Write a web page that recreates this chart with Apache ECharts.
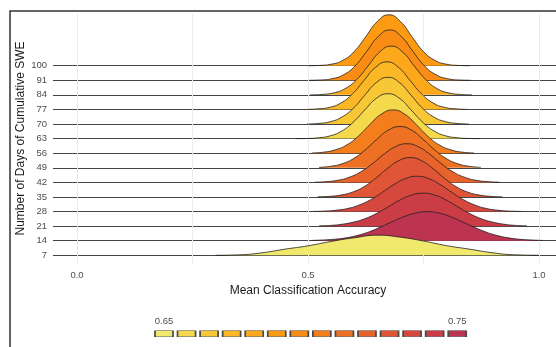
<!DOCTYPE html>
<html>
<head>
<meta charset="utf-8">
<script src="https://cdn.jsdelivr.net/npm/echarts@6/dist/echarts.min.js"></script>
<style>
  html, body { margin: 0; padding: 0; background: #ffffff; }
  #chart { width: 556px; height: 347px; }
</style>
</head>
<body>
<div id="chart"></div>
<script>
// Ridgeline of mean classification accuracy per SWE accumulation window.
const days = [7, 14, 21, 28, 35, 42, 49, 56, 63, 70, 77, 84, 91, 100];

// Mean accuracy of each window (drives the fill colour)
const meanAccuracy = [0.650, 0.750, 0.742, 0.735, 0.727, 0.719, 0.712,
                      0.704, 0.658, 0.665, 0.673, 0.681, 0.696, 0.688];

// Density profiles: first sampled accuracy, sample spacing, ridge heights
const ridgeStart = [0.300, 0.508, 0.524, 0.511, 0.521, 0.514, 0.524,
                    0.509, 0.473, 0.498, 0.496, 0.505, 0.502, 0.500];
const ridgeStep = [0.05, 0.025, 0.025, 0.025, 0.025, 0.025, 0.025,
                   0.025, 0.025, 0.025, 0.025, 0.025, 0.025, 0.025];
const ridge7   = [0, 0.03, 0.17, 0.42, 0.65, 0.95, 1.20, 1.38, 1.24, 0.98, 0.66, 0.42, 0.17, 0.03, 0];
const ridge14  = [0.02, 0.05, 0.10, 0.20, 0.37, 0.62, 0.95, 1.31, 1.65, 1.90, 1.99, 1.90, 1.65, 1.31, 0.95, 0.62, 0.37, 0.20, 0.10, 0.05, 0.02];
const ridge21  = [0.02, 0.05, 0.13, 0.28, 0.52, 0.88, 1.33, 1.79, 2.13, 2.26, 2.13, 1.79, 1.33, 0.88, 0.52, 0.28, 0.13, 0.05, 0.02];
const ridge28  = [0.01, 0.03, 0.09, 0.21, 0.45, 0.82, 1.32, 1.85, 2.26, 2.42, 2.26, 1.85, 1.32, 0.82, 0.45, 0.21, 0.09, 0.03, 0.01];
const ridge35  = [0.01, 0.04, 0.13, 0.33, 0.70, 1.27, 1.93, 2.48, 2.70, 2.48, 1.93, 1.27, 0.70, 0.33, 0.13, 0.04, 0.01];
const ridge42  = [0.01, 0.05, 0.14, 0.35, 0.72, 1.27, 1.92, 2.44, 2.65, 2.44, 1.92, 1.27, 0.72, 0.35, 0.14, 0.05, 0.01];
const ridge49  = [0.03, 0.10, 0.28, 0.64, 1.23, 1.95, 2.58, 2.83, 2.58, 1.95, 1.23, 0.64, 0.28, 0.10, 0.03];
const ridge56  = [0.02, 0.07, 0.23, 0.57, 1.17, 1.97, 2.68, 2.97, 2.68, 1.97, 1.17, 0.57, 0.23, 0.07, 0.02];
const ridge63  = [0, 0.01, 0.06, 0.19, 0.52, 1.13, 1.97, 2.76, 3.08, 2.76, 1.97, 1.13, 0.52, 0.19, 0.06, 0.01, 0];
const ridge70  = [0, 0.04, 0.16, 0.47, 1.08, 1.98, 2.84, 3.20, 2.84, 1.98, 1.08, 0.47, 0.16, 0.04, 0];
const ridge77  = [0, 0.04, 0.14, 0.44, 1.06, 1.98, 2.88, 3.26, 2.88, 1.98, 1.06, 0.44, 0.14, 0.04, 0];
const ridge84  = [0, 0.03, 0.13, 0.42, 1.04, 1.98, 2.93, 3.34, 2.93, 1.98, 1.04, 0.42, 0.13, 0.03, 0];
const ridge91  = [0, 0.02, 0.11, 0.38, 0.99, 1.98, 3.00, 3.45, 3.00, 1.98, 0.99, 0.38, 0.11, 0.02, 0];
const ridge100 = [0, 0.02, 0.10, 0.36, 0.97, 1.99, 3.03, 3.49, 3.03, 1.99, 0.97, 0.36, 0.10, 0.02, 0];
const ridgeHeights = [ridge7, ridge14, ridge21, ridge28, ridge35, ridge42, ridge49,
                      ridge56, ridge63, ridge70, ridge77, ridge84, ridge91, ridge100];

// Axis ticks
const accuracyTicks = [0, 0.25, 0.5, 0.75, 1.0];

// Fill ramp from low to high mean accuracy
const palette = ['#f0e96e', '#f4d94c', '#f8c735', '#fbb725', '#fca81a', '#fc9a12', '#f98c14',
                 '#f47e1c', '#ee7023', '#e8622b', '#e05535', '#d6483e', '#ca3d47', '#bc3452'];
const accMin = Math.min.apply(null, meanAccuracy);
const accMax = Math.max.apply(null, meanAccuracy);
function fillColor(m) {
  const t = (m - accMin) / (accMax - accMin);
  const k = Math.max(0, Math.min(palette.length - 1, Math.round(t * (palette.length - 1))));
  return palette[k];
}

const FONT = "'Liberation Sans', Arial, Helvetica, sans-serif";
const chart = echarts.init(document.getElementById('chart'), null, { renderer: 'canvas' });

const ridgeSeries = days.map((d, i) => ({
  type: 'line',
  name: String(d),
  xAxisIndex: 0,
  yAxisIndex: 0,
  data: ridgeHeights[i].map((h, k) => [ridgeStart[i] + k * ridgeStep[i], i + h]),
  smooth: 0.5,
  symbol: 'none',
  showSymbol: false,
  clip: false,
  silent: true,
  z: 10 + (days.length - i),   // lower ridges overlap the ones above
  lineStyle: { color: '#1e1e1e', width: 0.8 },
  areaStyle: { color: fillColor(meanAccuracy[i]), opacity: 1, origin: i }
}));

// Colour key, ordered by mean accuracy
const keyOrder = days.map((d, i) => i).sort((a, b) => meanAccuracy[a] - meanAccuracy[b]);
const keySeries = {
  type: 'scatter',
  xAxisIndex: 2,
  yAxisIndex: 2,
  symbol: 'rect',
  symbolSize: [18, 6],
  silent: true,
  data: keyOrder.map((idx, j) => ({
    value: [j, 0],
    itemStyle: { color: fillColor(meanAccuracy[idx]), opacity: 1, borderColor: '#4a4a4a', borderWidth: 1 },
    label: {
      show: j === 0 || j === keyOrder.length - 1,
      position: 'top',
      distance: 4,
      formatter: meanAccuracy[idx].toFixed(2),
      color: '#4d4d4d',
      fontSize: 9.5,
      fontFamily: FONT
    }
  }))
};

const xMin = -24 / 462;
const xMax = xMin + 503 / 462;

chart.setOption({
  animation: false,
  backgroundColor: '#ffffff',
  textStyle: { fontFamily: FONT },
  grid: [
    { left: 53, right: 0, top: 65.7, bottom: 91.7 },   // ridges
    { left: 77, right: 17, top: 14, bottom: 84 },      // accuracy grid and titles
    { left: 152.7, width: 315.8, top: 328.7, height: 10 } // colour key
  ],
  xAxis: [
    { gridIndex: 0, type: 'value', min: xMin, max: xMax, show: false },
    {
      gridIndex: 1, type: 'value', min: accuracyTicks[0], max: accuracyTicks[accuracyTicks.length - 1],
      interval: accuracyTicks[1] - accuracyTicks[0],
      axisLine: { show: false }, axisTick: { show: false },
      axisLabel: {
        color: '#4d4d4d', fontSize: 9.5, margin: 7,
        formatter: v => (Math.abs(v * 2 - Math.round(v * 2)) < 1e-9 ? v.toFixed(1) : '')
      },
      splitLine: { show: true, lineStyle: { color: '#ebebeb', width: 1 } },
      name: 'Mean Classification Accuracy',
      nameLocation: 'middle',
      nameGap: 21,
      nameTextStyle: { color: '#1a1a1a', fontSize: 12 }
    },
    { gridIndex: 2, type: 'category', data: keyOrder.map((d, j) => j), show: false }
  ],
  yAxis: [
    {
      gridIndex: 0, type: 'value', min: 0, max: days.length - 1, interval: 1,
      axisLine: { show: false }, axisTick: { show: false },
      axisLabel: { color: '#4d4d4d', fontSize: 9.5, margin: 6, formatter: v => String(days[v]) },
      splitLine: { show: true, lineStyle: { color: '#444444', width: 1 } }
    },
    {
      gridIndex: 1, type: 'value', min: 0, max: 1,
      axisLine: { show: false }, axisTick: { show: false },
      axisLabel: { show: false }, splitLine: { show: false },
      name: 'Number of Days of Cumulative SWE',
      nameLocation: 'middle',
      nameGap: 50,
      nameTextStyle: { color: '#1a1a1a', fontSize: 12 }
    },
    { gridIndex: 2, type: 'value', min: -1, max: 1, show: false }
  ],
  graphic: [{
    type: 'rect', silent: true, z: 100,
    shape: { x: 10, y: 11, width: 600, height: 400 },
    style: { fill: 'none', stroke: '#333333', lineWidth: 1.5 }
  }],
  series: ridgeSeries.concat([keySeries])
});
</script>
</body>
</html>
